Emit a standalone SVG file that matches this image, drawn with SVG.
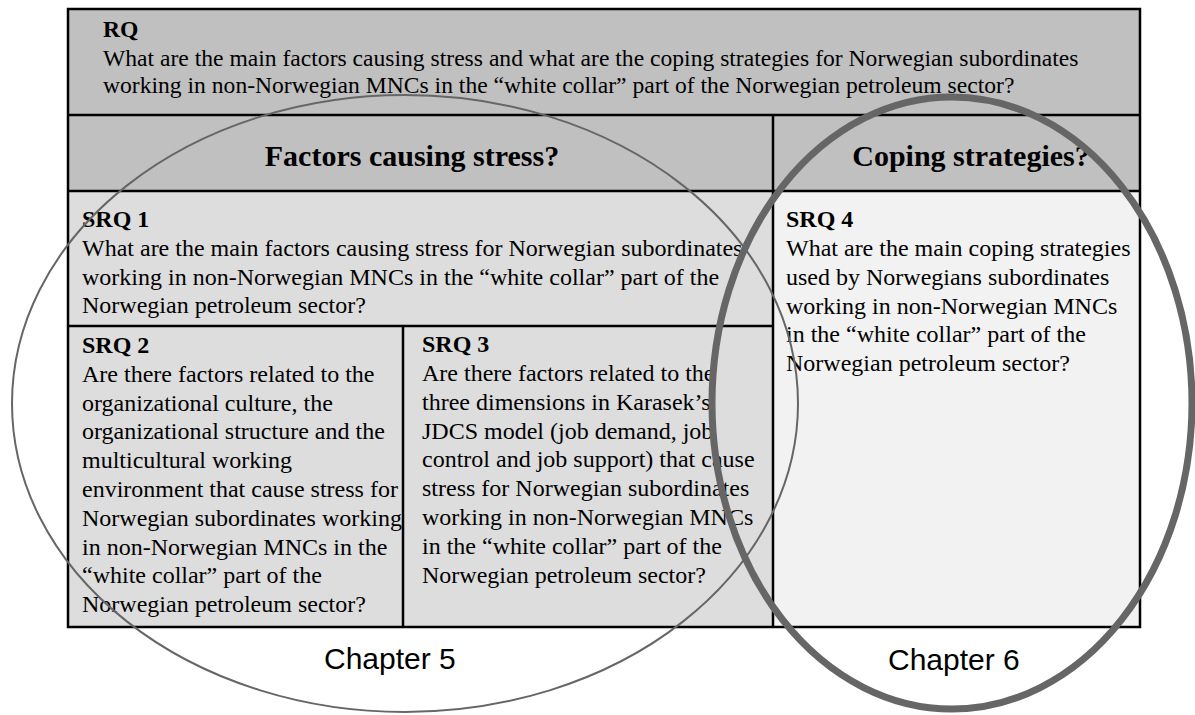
<svg xmlns="http://www.w3.org/2000/svg" width="1195" height="715" viewBox="0 0 1195 715">
  <style>
    .body { font-family: "Liberation Serif", "Times New Roman", serif; font-size: 24px; fill: #000; }
    .head { font-family: "Liberation Serif", "Times New Roman", serif; font-size: 24px; font-weight: bold; fill: #000; }
    .rq { font-size: 23.6px; }
    .title { font-family: "Liberation Serif", "Times New Roman", serif; font-size: 30px; font-weight: bold; fill: #000; text-anchor: middle; }
    .chapter { font-family: "Liberation Sans", Arial, sans-serif; font-size: 30px; fill: #000; }
    .grid { stroke: #000; stroke-width: 2.5; fill: none; }
    .dark { fill: #c0c0c0; }
    .mid { fill: #dddddd; }
    .light { fill: #f2f2f2; }
  </style>

  <rect width="1195" height="715" fill="#ffffff"/>

  <!-- research question row -->
  <g id="rq">
    <rect class="dark" x="68" y="9" width="1072" height="106"/>
    <text class="head rq" x="103" y="37">RQ</text>
    <text class="body rq" x="103" y="66">What are the main factors causing stress and what are the coping strategies for Norwegian subordinates</text>
    <text class="body rq" x="103" y="93">working in non-Norwegian MNCs in the “white collar” part of the Norwegian petroleum sector?</text>
  </g>

  <!-- column headers -->
  <g id="header-factors">
    <rect class="dark" x="68" y="115" width="705" height="76"/>
    <text class="title" x="412" y="166">Factors causing stress?</text>
  </g>
  <g id="header-coping">
    <rect class="dark" x="773" y="115" width="367" height="76"/>
    <text class="title" x="971" y="166">Coping strategies?</text>
  </g>

  <!-- sub-questions -->
  <g id="srq1">
    <rect class="mid" x="68" y="191" width="705" height="135"/>
    <text class="head" x="82" y="227">SRQ 1</text>
    <text class="body" x="82" y="256">What are the main factors causing stress for Norwegian subordinates</text>
    <text class="body" x="82" y="284.5">working in non-Norwegian MNCs in the “white collar” part of the</text>
    <text class="body" x="82" y="313">Norwegian petroleum sector?</text>
  </g>

  <g id="srq2">
    <rect class="mid" x="68" y="326" width="335" height="301"/>
    <text class="head" x="82" y="353">SRQ 2</text>
    <text class="body" x="82">
      <tspan x="82" y="381.8">Are there factors related to the</tspan>
      <tspan x="82" y="410.6">organizational culture, the</tspan>
      <tspan x="82" y="439.4">organizational structure and the</tspan>
      <tspan x="82" y="468.2">multicultural working</tspan>
      <tspan x="82" y="497">environment that cause stress for</tspan>
      <tspan x="82" y="525.8">Norwegian subordinates working</tspan>
      <tspan x="82" y="554.6">in non-Norwegian MNCs in the</tspan>
      <tspan x="82" y="583.4">“white collar” part of the</tspan>
      <tspan x="82" y="612.2">Norwegian petroleum sector?</tspan>
    </text>
  </g>

  <g id="srq3">
    <rect class="mid" x="403" y="326" width="370" height="301"/>
    <text class="head" x="422" y="352">SRQ 3</text>
    <text class="body">
      <tspan x="422" y="381">Are there factors related to the</tspan>
      <tspan x="422" y="409.8">three dimensions in Karasek’s</tspan>
      <tspan x="422" y="438.6">JDCS model (job demand, job</tspan>
      <tspan x="422" y="467.4">control and job support) that cause</tspan>
      <tspan x="422" y="496.2">stress for Norwegian subordinates</tspan>
      <tspan x="422" y="525">working in non-Norwegian MNCs</tspan>
      <tspan x="422" y="553.8">in the “white collar” part of the</tspan>
      <tspan x="422" y="582.6">Norwegian petroleum sector?</tspan>
    </text>
  </g>

  <g id="srq4">
    <rect class="light" x="773" y="191" width="367" height="436"/>
    <text class="head" x="786" y="227">SRQ 4</text>
    <text class="body">
      <tspan x="786" y="256">What are the main coping strategies</tspan>
      <tspan x="786" y="284.8">used by Norwegians subordinates</tspan>
      <tspan x="786" y="313.6">working in non-Norwegian MNCs</tspan>
      <tspan x="786" y="342.4">in the “white collar” part of the</tspan>
      <tspan x="786" y="371.2">Norwegian petroleum sector?</tspan>
    </text>
  </g>

  <!-- table rules -->
  <g id="grid">
    <line class="grid" x1="68" y1="115" x2="1140" y2="115"/>
    <line class="grid" x1="68" y1="191" x2="1140" y2="191"/>
    <line class="grid" x1="68" y1="326" x2="773" y2="326"/>
    <line class="grid" x1="773" y1="115" x2="773" y2="627"/>
    <line class="grid" x1="403" y1="326" x2="403" y2="627"/>
    <rect class="grid" x="68" y="9" width="1072" height="618" stroke-width="3"/>
  </g>

  <!-- chapter groupings -->
  <g id="chapter-outlines" fill="none" stroke="#666666">
    <ellipse cx="405" cy="403.5" rx="393" ry="308.5" stroke-width="2"/>
    <ellipse cx="952" cy="403" rx="240" ry="306" stroke-width="7"/>
  </g>

  <g id="chapter-labels">
    <text class="chapter" x="324" y="669">Chapter 5</text>
    <text class="chapter" x="888" y="670">Chapter 6</text>
  </g>
</svg>
